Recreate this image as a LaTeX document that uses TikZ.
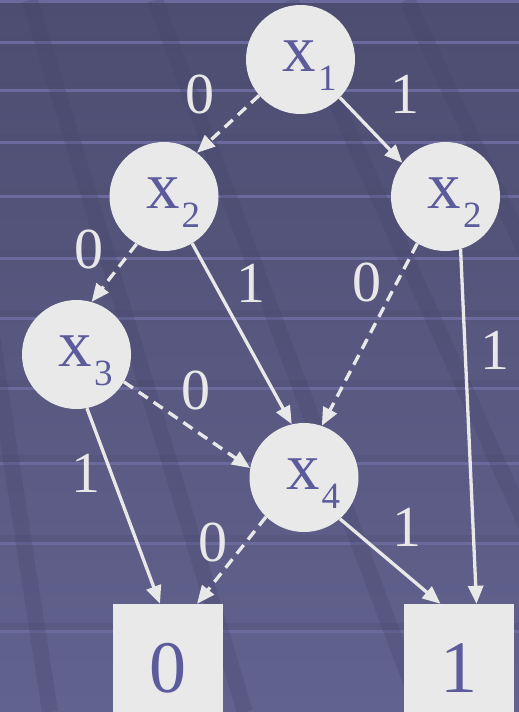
\documentclass[tikz,border=0pt]{standalone}
\usepackage{fontspec}
\setmainfont{Liberation Serif}
\usetikzlibrary{positioning,arrows.meta}

\definecolor{bgtop}{HTML}{4D4D71}
\definecolor{bgbot}{HTML}{62628F}
\definecolor{stripe}{HTML}{6A6A9C}
\definecolor{streak}{HTML}{46466B}
\definecolor{nodefill}{HTML}{E9E9E9}
\definecolor{ink}{HTML}{5C5C9C}
\definecolor{wire}{HTML}{E8E8E8}

\newcommand\xvar[1]{\hspace*{18pt}\rule{0pt}{43pt}x\kern2pt\raisebox{-19pt}{\fontsize{37}{37}\selectfont #1}}

\begin{document}
\begin{tikzpicture}
  [x=1pt,y=-1pt,
   var/.style={circle,fill=nodefill,text=ink,inner sep=0pt,minimum size=109pt,
font=\fontsize{67}{67}\selectfont},
   leaf/.style={rectangle,fill=nodefill,text=ink,inner sep=0pt,minimum width=110pt,
minimum height=128pt,font=\fontsize{74}{74}\selectfont},
   lbl/.style={text=wire,inner sep=0pt,font=\fontsize{58}{58}\selectfont},
   zero/.style={draw=wire,line width=3.3pt,dash pattern=on 11pt off 7pt,
-{Triangle[length=18pt,width=15pt]}},
   one/.style={draw=wire,line width=3.3pt,-{Triangle[length=18pt,width=15pt]}},
   on grid]
  \useasboundingbox (0,0) rectangle (519,712);
  \clip (0,0) rectangle (519,712);
  \shade[top color=bgtop,bottom color=bgbot] (0,0) rectangle (519,712);
  \foreach \y in {1,42,90,142,196,258,318,388,463,543,631} {
    \fill[bgtop,opacity=0.3] (0,\y-8) rectangle (519,\y-1.5);
    \fill[stripe] (0,\y-1.5) rectangle (519,\y+1.5);
  }
  \foreach \a/\b in {30/245,155/422,290/610,407/742,-60/50}
    \draw[streak,line width=16pt,opacity=0.3] (\a,0) -- (\b,712);

  \node[var] (x1) at (300.5,59.5) {\xvar{1}};
  \node[var] (x2a) [below left=137pt and 136.5pt of x1] {\xvar{2}};
  \node[var] (x2b) [below right=137pt and 145pt of x1] {\xvar{2}};
  \node[var] (x3) [below left=158pt and 87.5pt of x2a] {\xvar{3}};
  \node[var] (x4) [below right=281pt and 140pt of x2a] {\xvar{4}};
  \node[leaf] (f) [below right=313.5pt and 91.5pt of x3] {0};
  \node[leaf] (t) [right=290.5pt of f] {1};

  \draw[zero] (x1.221) -- (x2a.53);
  \draw[one] (x1.-44) -- (x2b.142);
  \draw[zero] (x2a.240) -- (x3.74);
  \draw[one] (x2a.-59) -- (x4.103);
  \draw[zero] (x2b.239) -- (x4.71);
  \draw[one] (x2b.286) -- ([xshift=18pt]t.north);
  \draw[zero] (x3.-30) -- (x4.170);
  \draw[one] (x3.-79) -- ([xshift=-8pt]f.north);
  \draw[zero] (x4.226) -- ([xshift=29pt]f.north);
  \draw[one] (x4.-49) -- ([xshift=-18pt]t.north);

  \node[lbl] (l1a) at (200,94) {0};
  \node[lbl] (l1b) at (405,94) {1};
  \node[lbl] (l2a) at (88.5,249) {0};
  \node[lbl] (l2b) at (251,283) {1};
  \node[lbl] (l2c) at (367,282) {0};
  \node[lbl] (l2d) at (494.5,350) {1};
  \node[lbl] (l3a) at (196,390) {0};
  \node[lbl] (l3b) at (86,473) {1};
  \node[lbl] (l4a) at (213,542) {0};
  \node[lbl] (l4b) at (407,527) {1};
\end{tikzpicture}
\end{document}
